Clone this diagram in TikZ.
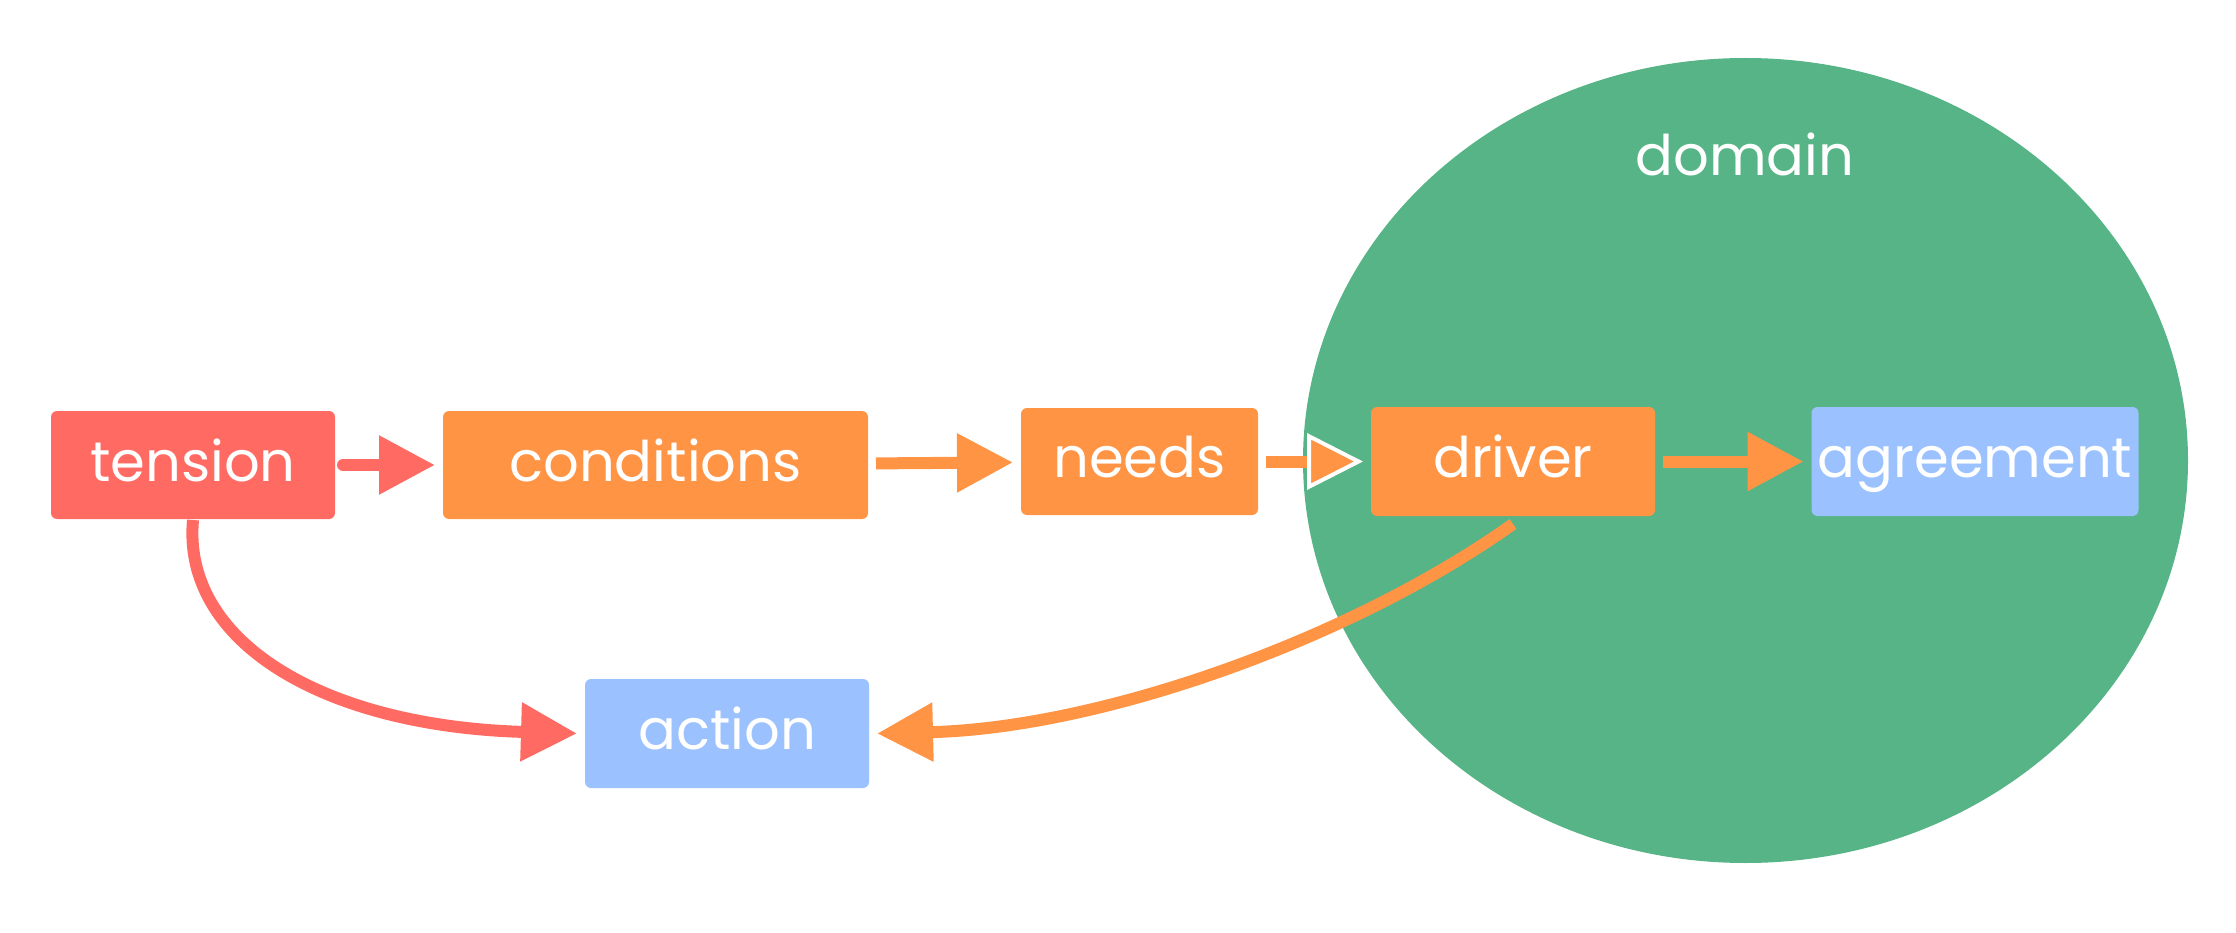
\documentclass[tikz,border=0pt]{standalone}
\usepackage{fontspec}
\setmainfont{Poppins}
\usetikzlibrary{arrows.meta,positioning,shapes.geometric}
\definecolor{tenred}{HTML}{FF6B63}
\definecolor{condorange}{HTML}{FF9445}
\definecolor{actblue}{HTML}{9BC2FF}
\definecolor{domgreen}{HTML}{56B486}
\tikzset{bx/.style={fill=#1,rounded corners=6pt,text=white,inner sep=0pt,outer
sep=8pt,minimum height=108pt,text height=40pt,text depth=8pt,font=\fontsize{56}{60}\selectfont},
ln/.style={draw=#1,line width=12pt,-{Triangle[length=56pt,width=56pt]}}}

\begin{document}
\begin{tikzpicture}[x=1pt,y=-1pt]
		\useasboundingbox (0,0) rectangle (2236,933);
		\node (domainarea) at (1745.5,460.5)[ellipse,fill=domgreen,inner sep=0pt,minimum width=885pt,minimum height=805pt]{};
		\node (domain) at (1745,176)[anchor=base,text=white,font=\fontsize{56}{60}\selectfont]{domain};
		\node (tension) at (193,465)[bx=tenred,minimum width=284pt]{tension};
		\node (conditions) at (655.5,465)[bx=condorange,minimum width=425pt]{conditions};
		\node (needs) at (1139.5,461.5)[bx=condorange,minimum width=237pt,minimum height=107pt]{needs};
		\node (driver) at (1513,461.5)[bx=condorange,minimum width=284pt,minimum height=109pt]{driver};
		\node (agreement) at (1975,461.5)[bx=actblue,minimum width=327pt,minimum height=109pt]{agreement};
		\node (action) at (727,733.5)[bx=actblue,minimum width=284pt,minimum height=109pt]{action};
		\draw[ln=tenred,line cap=round] (tension) -- (conditions);
		\draw[ln=condorange] (conditions) -- (needs);
		\draw[ln=condorange,-{Triangle[length=56pt,width=56pt,color=white,fill=condorange,line width=4pt]}] (needs) -- (driver);
		\draw[ln=condorange] (driver) -- (agreement);
		\draw[ln=tenred] ([yshift=7pt]tension.south) .. controls (182,640) and (320,726) .. (action.west);
		\draw[ln=condorange] (driver.south) .. controls (1350,640) and (1100,728) .. (action.east);
	\end{tikzpicture}
\end{document}
